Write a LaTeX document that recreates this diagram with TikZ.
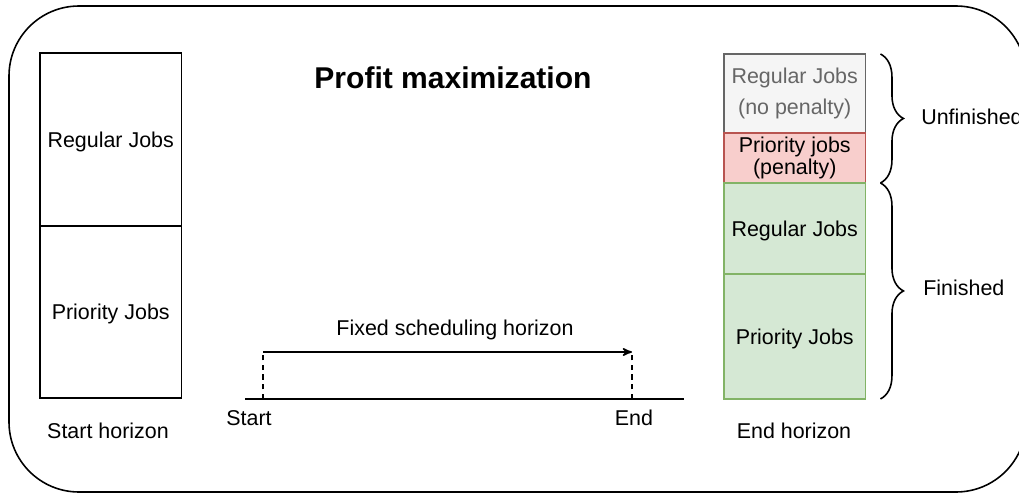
\documentclass[tikz,border=0pt]{standalone}
\usepackage{fontspec}
\setmainfont{Liberation Sans}
\usetikzlibrary{arrows,positioning,decorations.pathreplacing}

\tikzset{
  txt/.style={font=\fontsize{12.2}{14}\selectfont},
  jobbox/.style={draw, line width=0.9pt, minimum width=2.83cm, inner sep=0pt,
    outer sep=0pt, align=center, txt},
  graybox/.style={jobbox, draw=boxgray, fill=fillgray, text=boxgray},
  redbox/.style={jobbox, draw=boxred, fill=fillred},
  greenbox/.style={jobbox, draw=boxgreen, fill=fillgreen},
  lbl/.style={txt, inner sep=0pt},
  bracket/.style={decorate, decoration={brace, amplitude=0.46cm}, line width=0.9pt}
}
\definecolor{boxgray}{HTML}{666666}
\definecolor{fillgray}{HTML}{F5F5F5}
\definecolor{boxred}{HTML}{B85450}
\definecolor{fillred}{HTML}{F8CECC}
\definecolor{boxgreen}{HTML}{82B366}
\definecolor{fillgreen}{HTML}{D5E8D4}

\begin{document}
\begin{tikzpicture}[x=0.02cm,y=-0.02cm]
  \useasboundingbox (0,0) rectangle (1019,494);
  \clip (0,0) rectangle (1019,494);

  % frame
  \draw[line width=0.9pt, rounded corners=1.4cm] (9,6) rectangle (1026,492);

  % start horizon
  \node[jobbox, minimum height=3.46cm, anchor=north west, text depth=0pt] (startreg) at (40,53) {Regular Jobs};
  \node[jobbox, minimum height=3.44cm, below=0pt of startreg, text depth=0pt] (startprio) {Priority Jobs};
  \node[lbl] (starthz) at (108,431) {Start horizon};

  \node[font=\bfseries\fontsize{17.1}{20}\selectfont, inner sep=0pt] (title) at (453,78) {Profit maximization};

  % horizon line
  \coordinate (tl0) at (245,399);
  \coordinate (tl1) at (684,399);
  \coordinate (ts) at (263,399);
  \coordinate (te) at (632,399);
  \coordinate (as) at (263,352);
  \coordinate (ae) at (632,352);
  \draw[line width=0.9pt] (tl0) -- (tl1);
  \draw[line width=0.9pt, dash pattern=on 3pt off 2.5pt] (ts) -- (as);
  \draw[line width=0.9pt, dash pattern=on 3pt off 2.5pt] (te) -- (ae);
  \draw[line width=0.9pt, -stealth'] (as) -- (ae);
  \node[lbl] (fixed) at (455,330) {Fixed scheduling horizon};
  \node[lbl] (start) at (249,418) {Start};
  \node[lbl] (end) at (634,418) {End};

  % end horizon
  \node[graybox, minimum height=1.58cm, anchor=north west, font=\fontsize{12.2}{17.5}\selectfont] (endgray) at (724,54) {Regular Jobs\\(no penalty)};
  \node[redbox, minimum height=1.0cm, below=0pt of endgray, font=\fontsize{12.2}{12.5}\selectfont] (endred) {Priority jobs\\(penalty)};
  \node[greenbox, minimum height=1.82cm, below=0pt of endred, text depth=0pt] (endreg) {Regular Jobs};
  \node[greenbox, minimum height=2.5cm, below=0pt of endreg, text depth=0pt] (endprio) {Priority Jobs};
  \node[lbl] (endhz) at (794,431) {End horizon};

  % braces
  \draw[bracket] ([xshift=0.3cm]endgray.north east) -- ([xshift=0.3cm]endred.south east);
  \draw[bracket] ([xshift=0.3cm]endreg.north east) -- ([xshift=0.3cm]endprio.south east);
  \node[lbl, anchor=west] (unfin) at (921,117) {Unfinished};
  \node[lbl, anchor=west] (fin) at (923,288) {Finished};
\end{tikzpicture}
\end{document}
